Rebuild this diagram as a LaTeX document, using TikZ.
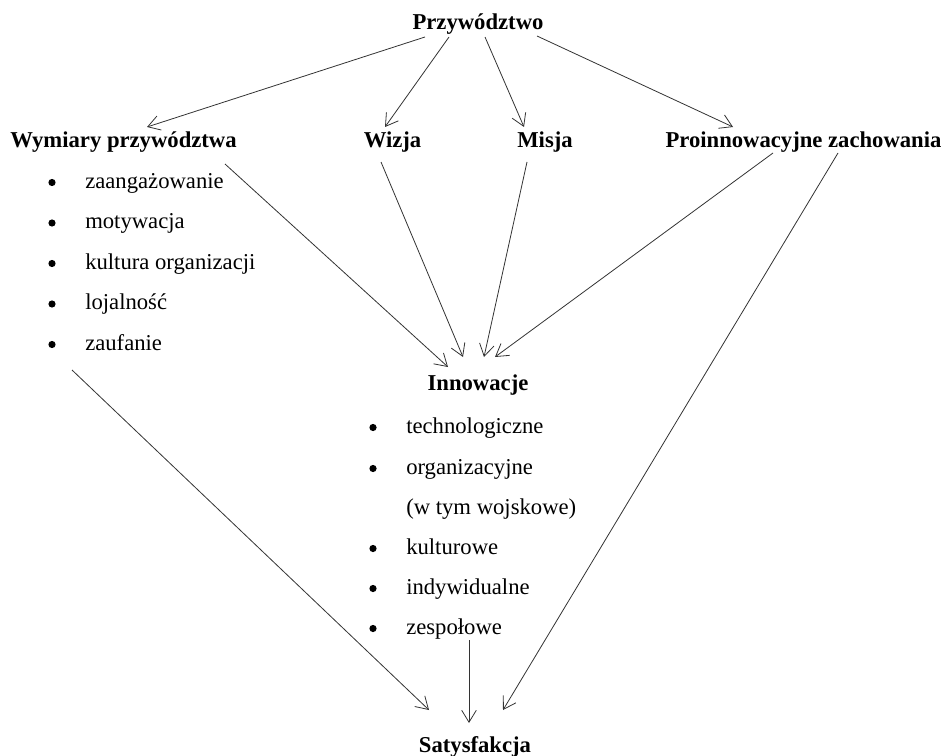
\documentclass[tikz,border=0pt]{standalone}
\usepackage{fontspec}
\setmainfont{Liberation Serif}
\usetikzlibrary{arrows.meta,calc}
\tikzset{
  head/.style={font=\fontsize{17}{20}\selectfont\bfseries, inner sep=0pt, anchor=base},
  item/.style={font=\fontsize{17}{20}\selectfont, inner sep=0pt, anchor=base west},
  dot/.style={circle, fill=black, inner sep=0pt, minimum size=5.4pt},
  link/.style={-{Straight Barb[length=9pt,width=11pt]}, line width=0.6pt, black!80}
}
\begin{document}
\begin{tikzpicture}[x=0.75pt,y=-0.75pt]
    \useasboundingbox (0,0) rectangle (945,756);
    % headings
    \node[head] (prz) at (478,30) {Przywództwo};
    \node[head] (wym) at (123.5,147) {Wymiary przywództwa};
    \node[head] (wiz) at (392.5,147) {Wizja};
    \node[head] (mis) at (545,147) {Misja};
    \node[head] (pro) at (803.5,147) {Proinnowacyjne zachowania};
    \node[head] (inn) at (478,390) {Innowacje};
    \node[head] (sat) at (475,752) {Satysfakcja};
    % lists
    \foreach \t [count=\i] in {zaangażowanie,motywacja,kultura organizacji,lojalność,zaufanie} {
        \node[item] (w\i) at (85,{188+40.5*(\i-1)}) {\t};
        \node[dot] (wb\i) at (52,{182.5+40.5*(\i-1)}) {};
    }
    \foreach \t/\y [count=\i] in {technologiczne/433,organizacyjne/474,(w tym wojskowe)/514,kulturowe/554,indywidualne/594,zespołowe/634}
        \node[item] (i\i) at (406,\y) {\t};
    \foreach \y [count=\i] in {433,474,554,594,634}
        \node[dot] (ib\i) at (373,\y-5.5) {};
    % arrows
    \draw[link] ($(prz.base)+(-53,7)$) -- ($(wym.base)+(23.5,-20)$);
    \draw[link] ($(prz.base)+(-29,7)$) -- ($(wiz.base)+(-7.5,-20)$);
    \draw[link] ($(prz.base)+(7,7)$) -- ($(mis.base)+(-21,-20)$);
    \draw[link] ($(prz.base)+(59,6)$) -- ($(pro.base)+(-70.5,-20)$);
    \draw[link] ($(wym.base)+(101.5,17)$) -- ($(inn.base)+(-30,-23)$);
    \draw[link] ($(wiz.base)+(-11.5,15)$) -- ($(inn.base)+(-15,-33)$);
    \draw[link] ($(mis.base)+(-18,15)$) -- ($(inn.base)+(6,-33)$);
    \draw[link] ($(pro.base)+(-30.5,6)$) -- ($(inn.base)+(17,-33)$);
    \draw[link] ($(w5.base west)+(-13,20)$) -- ($(sat.base)+(-46,-42)$);
    \draw[link] ($(i6.base west)+(63,6)$) -- ($(sat.base)+(-6,-29)$);
    \draw[link] ($(pro.base)+(34.5,6)$) -- ($(sat.base)+(28,-42)$);
\end{tikzpicture}
\end{document}
